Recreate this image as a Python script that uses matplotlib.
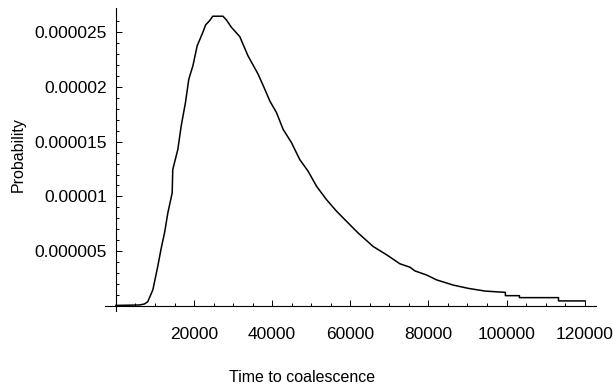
import matplotlib
matplotlib.use("Agg")
import matplotlib.pyplot as plt

plt.rcParams['font.family'] = ['Liberation Sans', 'DejaVu Sans']

# values (time, probability)
time = [0, 6000, 7300, 8150, 9450, 10700, 11600, 12450, 13300, 14400, 14550,
        15850, 16700, 17800, 18650, 19700, 20800, 22250, 22950, 24000, 24800,
        27400, 28300, 29550, 31700, 33800, 36400, 38100, 39400, 41100, 42800,
        44950, 47050, 49200, 51350, 53900, 56500, 59050, 62000, 65850, 69300,
        72700, 75250, 76550, 79500, 82100, 86400, 90300, 94500, 99700, 99700,
        103300, 103300, 113300, 113300, 120000]
prob = [0.05e-6, 0.09e-6, 0.18e-6, 0.39e-6, 1.47e-6, 3.60e-6, 5.29e-6, 6.69e-6,
        8.52e-6, 10.32e-6, 12.46e-6, 14.29e-6, 16.42e-6, 18.57e-6, 20.70e-6,
        21.92e-6, 23.75e-6, 24.98e-6, 25.65e-6, 26.05e-6, 26.45e-6, 26.45e-6,
        26.10e-6, 25.44e-6, 24.59e-6, 22.84e-6, 21.16e-6, 19.79e-6, 18.71e-6,
        17.65e-6, 16.12e-6, 14.90e-6, 13.37e-6, 12.30e-6, 10.93e-6, 9.71e-6,
        8.64e-6, 7.72e-6, 6.66e-6, 5.43e-6, 4.67e-6, 3.85e-6, 3.54e-6, 3.20e-6,
        2.83e-6, 2.38e-6, 1.90e-6, 1.60e-6, 1.36e-6, 1.24e-6, 0.94e-6, 0.94e-6,
        0.76e-6, 0.76e-6, 0.46e-6, 0.46e-6]

xticks = [20000, 40000, 60000, 80000, 100000, 120000]
xticklabels = ["20000", "40000", "60000", "80000", "100000", "120000"]
yticks = [0.000005, 0.00001, 0.000015, 0.00002, 0.000025]
yticklabels = ["0.000005", "0.00001", "0.000015", "0.00002", "0.000025"]

fig = plt.figure(figsize=(6.13, 3.88), dpi=100)
ax = fig.add_axes([105 / 613, 77 / 388, 491 / 613, 303 / 388])

ax.plot(time, prob, color="black", linewidth=1.1)

ax.set_xlim(-2800, 122900)
ax.set_ylim(-0.46e-6, 2.72e-5)

ax.spines["left"].set_position(("data", 0))
ax.spines["bottom"].set_position(("data", 0))
ax.spines["top"].set_visible(False)
ax.spines["right"].set_visible(False)
ax.spines["left"].set_linewidth(0.8)
ax.spines["bottom"].set_linewidth(0.8)

ax.set_xticks(xticks)
ax.set_xticklabels(xticklabels)
ax.set_xticks(range(5000, 120001, 5000), minor=True)
ax.set_yticks(yticks)
ax.set_yticklabels(yticklabels)
ax.set_yticks([i * 1e-6 for i in range(1, 27)], minor=True)

ax.tick_params(which="both", direction="in", width=0.7, labelsize=12.5)
ax.tick_params(axis="x", which="major", length=4, pad=15.5)
ax.tick_params(axis="y", which="major", length=4, pad=6.5)
ax.tick_params(which="minor", length=2.2)

fig.text(302.5 / 613, 1 - 377 / 388, "Time to coalescence", fontsize=11.5,
         ha="center", va="center")
fig.text(18 / 613, 1 - 155 / 388, "Probability", fontsize=11.5,
         rotation=90, ha="center", va="center")

fig.savefig("out.png", dpi=100)
